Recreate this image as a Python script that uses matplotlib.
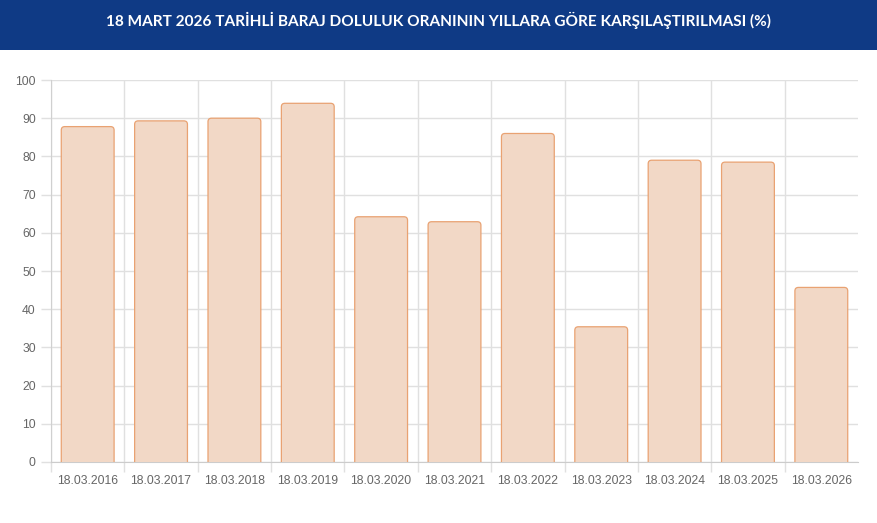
import matplotlib
matplotlib.use("Agg")
import matplotlib.pyplot as plt
from matplotlib.patches import FancyBboxPatch, Rectangle
from matplotlib.ticker import FixedLocator

dates = ["18.03.2016", "18.03.2017", "18.03.2018", "18.03.2019", "18.03.2020",
         "18.03.2021", "18.03.2022", "18.03.2023", "18.03.2024", "18.03.2025",
         "18.03.2026"]
values = [87.8, 89.3, 90.0, 93.9, 64.2, 62.9, 86.0, 35.4, 79.0, 78.5, 45.7]
title = "18 MART 2026 TARİHLİ BARAJ DOLULUK ORANININ YILLARA GÖRE KARŞILAŞTIRILMASI (%)"

W, H = 878, 523
fig = plt.figure(figsize=(W / 100, H / 100), dpi=100)
fig.patch.set_facecolor("white")

# title band
fig.patches.append(Rectangle((0, 1 - 50 / H), 1, 50 / H, transform=fig.transFigure,
                             facecolor="#0f3a85", edgecolor="none", zorder=0))
fig.text(0.5, 1 - 20 / H, title, ha="center", va="center", color="white",
         fontsize=11.1, fontweight="bold", family=["Lato", "DejaVu Sans"])

left, right, top, bottom = 51, 858, 80, 462
ax = fig.add_axes([left / W, 1 - bottom / H, (right - left) / W, (bottom - top) / H])

x = list(range(len(dates)))
bars = ax.bar(x, values, width=0.72, color="none", edgecolor="none")

fill = "#f2d8c6"
edge = "#e9a272"
px_x = 11 / (right - left)        # data units per pixel in x
px_y = 100 / (bottom - top)       # data units per pixel in y
r = 3.5
for b in bars:
    bx, bw, bh = b.get_x(), b.get_width(), b.get_height()
    ext = 8 * px_y
    p = FancyBboxPatch((bx + r * px_x, -ext + r * px_y),
                       bw - 2 * r * px_x, bh + ext - 2 * r * px_y,
                       boxstyle=f"round,pad={r * px_x},rounding_size={r * px_x}",
                       mutation_aspect=px_y / px_x,
                       facecolor=fill, edgecolor=edge, linewidth=0.9, zorder=3,
                       clip_on=True)
    ax.add_patch(p)

ax.set_xlim(-0.5, 10.5)
ax.set_ylim(0, 100)

grid_c = "#e0e0e0"
ax.set_yticks(range(0, 101, 10))
ax.yaxis.grid(True, color=grid_c, linewidth=1, zorder=0)
ax.xaxis.set_major_locator(FixedLocator(x))
ax.set_xticklabels(dates)
ax.xaxis.set_minor_locator(FixedLocator([i - 0.5 for i in range(len(dates))]))
ax.xaxis.grid(True, which="minor", color=grid_c, linewidth=1, zorder=0)
ax.tick_params(axis="x", which="major", length=0, pad=9, labelsize=8.7, labelcolor="#666666")
ax.tick_params(axis="x", which="minor", length=7, color=grid_c, width=1)
ax.tick_params(axis="y", length=7, color=grid_c, width=1, pad=4, labelsize=8.7,
               labelcolor="#666666")
for lab in ax.get_xticklabels() + ax.get_yticklabels():
    lab.set_family(["Liberation Sans", "DejaVu Sans"])

for s in ["top", "right"]:
    ax.spines[s].set_visible(False)
ax.spines["left"].set_color("#d0d0d0")
ax.spines["bottom"].set_color("#cccccc")
ax.set_axisbelow(True)

fig.savefig("out.png", dpi=100)
